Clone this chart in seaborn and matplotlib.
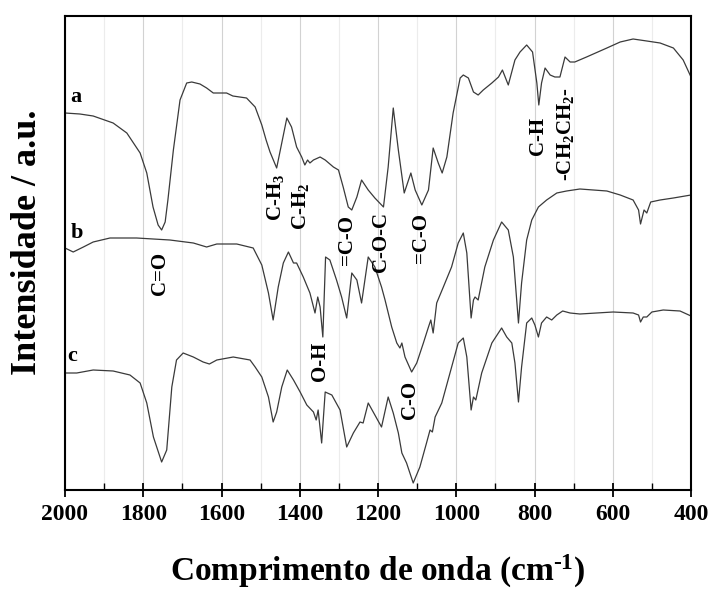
import numpy as np
import pandas as pd
import matplotlib
matplotlib.use("Agg")
import matplotlib.pyplot as plt
from matplotlib.ticker import MultipleLocator
import seaborn as sns

# ---------------- data ----------------
wn_a = [2000, 1962, 1928, 1877, 1842, 1808, 1791, 1775, 1762, 1753, 1744, 1737, 1723, 1706,
        1689, 1676, 1655, 1638, 1621, 1587, 1571, 1536, 1514, 1497, 1486, 1476, 1459, 1446,
        1433, 1421, 1408, 1395, 1387, 1380, 1374, 1365, 1348, 1335, 1314, 1301, 1289, 1276,
        1267, 1254, 1242, 1225, 1208, 1186, 1174, 1161, 1148, 1133, 1116, 1105, 1088, 1071,
        1059, 1046, 1036, 1024, 1008, 990, 982, 969, 956, 944, 931, 909, 892, 882, 867, 850,
        837, 820, 805, 794, 789, 782, 773, 760, 748, 735, 722, 709, 697, 667, 615, 581, 548,
        513, 479, 445, 420, 400]
int_a = [377, 376, 374, 367, 357, 337, 317, 283, 265, 260, 268, 290, 340, 390,
         407, 408, 406, 402, 397, 397, 394, 392, 383, 365, 350, 338, 322, 347,
         372, 363, 343, 333, 325, 330, 327, 330, 333, 330, 323, 320, 303, 283,
         280, 293, 310, 300, 292, 283, 323, 382, 340, 297, 317, 300, 285, 300,
         342, 327, 317, 333, 377, 412, 415, 412, 398, 395, 400, 407, 413, 420, 405, 430,
         438, 445, 438, 407, 385, 407, 422, 415, 413, 413, 433, 428, 428, 433, 442, 448, 451,
         449, 447, 442, 430, 413]

wn_b = [2000, 1979, 1953, 1928, 1885, 1817, 1732, 1672, 1638, 1612, 1561, 1519, 1497, 1480,
        1468, 1455, 1442, 1429, 1416, 1408, 1391, 1374, 1361, 1354, 1348, 1341, 1334, 1323,
        1306, 1293, 1280, 1267, 1254, 1242, 1225, 1208, 1191, 1182, 1165, 1152, 1144, 1139,
        1131, 1114, 1101, 1084, 1071, 1065, 1059, 1050, 1033, 1012, 995, 982, 973, 962, 956,
        952, 944, 927, 905, 884, 867, 854, 841, 833, 820, 807, 790, 769, 743, 718, 684, 615,
        581, 548, 534, 529, 520, 513, 503, 479, 445, 400]
int_b = [242, 238, 243, 248, 252, 252, 250, 247, 243, 246, 246, 242, 225, 197,
         170, 203, 227, 238, 227, 227, 213, 197, 177, 193, 183, 153, 233, 230,
         210, 193, 172, 217, 210, 187, 233, 223, 203, 190, 163, 147, 142, 147,
         133, 118, 127, 147, 163, 170, 157, 187, 203, 223, 247, 257, 237, 172, 190,
         193, 190, 223, 250, 268, 260, 233, 167, 207, 250, 270, 283, 290, 297, 299, 301, 299,
         295, 290, 280, 266, 280, 277, 288, 290, 292, 295]

wn_c = [2000, 1970, 1928, 1877, 1834, 1808, 1791, 1774, 1753, 1740, 1727, 1715, 1698, 1672,
        1647, 1631, 1612, 1570, 1527, 1514, 1497, 1480, 1468, 1459, 1446, 1432, 1416, 1399,
        1382, 1365, 1358, 1353, 1344, 1335, 1318, 1297, 1280, 1263, 1246, 1238, 1225, 1208,
        1191, 1174, 1161, 1148, 1139, 1127, 1110, 1093, 1076, 1067, 1061, 1054, 1037, 1016,
        995, 982, 973, 962, 956, 950, 935, 909, 884, 871, 858, 850, 841, 833, 820, 807, 799,
        790, 782, 769, 756, 743, 728, 709, 684, 599, 548, 534, 529, 522, 513, 500, 471, 428, 400]
int_c = [117, 117, 120, 119, 115, 107, 87, 53, 28, 40, 103, 130, 137, 133,
         128, 126, 130, 133, 130, 123, 113, 93, 68, 78, 103, 120, 110, 98,
         85, 78, 70, 80, 47, 98, 95, 80, 43, 57, 68, 67, 87, 75,
         63, 93, 77, 57, 37, 27, 7, 23, 47, 60, 58, 73, 87, 117,
         147, 152, 133, 80, 93, 90, 117, 147, 162, 153, 147, 127, 88, 123, 167, 172, 165,
         153, 167, 173, 170, 175, 179, 177, 176, 178, 177, 175, 168, 173, 173, 178, 180, 179, 174]

series_labels = ["a", "b", "c"]
xtick_values = [2000, 1800, 1600, 1400, 1200, 1000, 800, 600, 400]

# band assignments: (text, wavenumber, intensity)
band_labels = [
    ("C=O", 1757, 217),
    ("C-H$_3$", 1463, 293),
    ("C-H$_2$", 1399, 284),
    ("=C-O", 1279, 250),
    ("C-O-C", 1192, 248),
    ("=C-O", 1090, 252),
    ("O-H", 1347, 129),
    ("C-O", 1118, 90),
    ("C-H", 791, 354),
    ("-CH$_2$CH$_2$-", 720, 356),
]
series_label_pos = [(1972, 393), (1969, 257), (1981, 134)]

# ---------------- plotting ----------------
df = pd.concat([
    pd.DataFrame({"wn": wn_a, "I": int_a, "s": "a"}),
    pd.DataFrame({"wn": wn_b, "I": int_b, "s": "b"}),
    pd.DataFrame({"wn": wn_c, "I": int_c, "s": "c"}),
])

sns.set_theme(style="white")
plt.rcParams["font.family"] = ["Liberation Serif", "DejaVu Serif"]
plt.rcParams["font.weight"] = "bold"
plt.rcParams["text.color"] = "black"
plt.rcParams["axes.labelcolor"] = "black"
plt.rcParams["xtick.color"] = "black"
plt.rcParams["mathtext.fontset"] = "custom"
plt.rcParams["mathtext.rm"] = "Liberation Serif:bold"
plt.rcParams["mathtext.it"] = "Liberation Serif:bold"
plt.rcParams["mathtext.bf"] = "Liberation Serif:bold"

fig = plt.figure(figsize=(7.15, 5.91), dpi=100)
ax = fig.add_axes([65 / 715, 1 - 490 / 591, (691 - 65) / 715, (490 - 16) / 591])

sns.lineplot(data=df, x="wn", y="I", hue="s", units="s", estimator=None,
             palette=["#3a3a3a"] * 3, linewidth=0.9, legend=False, ax=ax)

ax.set_xlim(2000, 400)
ax.set_ylim(0, 474)
ax.set_yticks([])
ax.xaxis.set_minor_locator(MultipleLocator(100))
ax.set_xticks(xtick_values)
ax.set_xticklabels([str(v) for v in xtick_values], fontsize=17, fontweight="bold")
ax.tick_params(axis="x", which="major", direction="inout", length=10, width=1.3,
               pad=5, colors="black", bottom=True)
ax.tick_params(axis="x", which="minor", direction="in", length=5, width=1.0, bottom=True)

ax.grid(True, axis="x", which="major", color="#d2d2d2", linewidth=0.8)
ax.grid(True, axis="x", which="minor", color="#ececec", linewidth=0.8)
ax.set_axisbelow(True)
for sp in ax.spines.values():
    sp.set_color("black")
    sp.set_linewidth(1.5)

ax.set_xlabel("")
ax.set_ylabel("")
fig.text(378 / 715, 1 - 581 / 591, "Comprimento de onda (cm$^{\\text{-}1}$)",
         fontsize=24, fontweight="bold", ha="center", va="baseline")
fig.text(28 / 715, 1 - 242 / 591, "Intensidade / a.u.", rotation=90,
         fontsize=26, fontweight="bold", ha="center", va="center")

for lab, (x, y) in zip(series_labels, series_label_pos):
    ax.text(x, y, lab, fontsize=16, fontweight="bold", ha="center", va="center")

for txt, x, y in band_labels:
    ax.text(x, y, txt, rotation=90, fontsize=15, fontweight="bold",
            ha="center", va="center")

fig.savefig("out.png", dpi=100)
